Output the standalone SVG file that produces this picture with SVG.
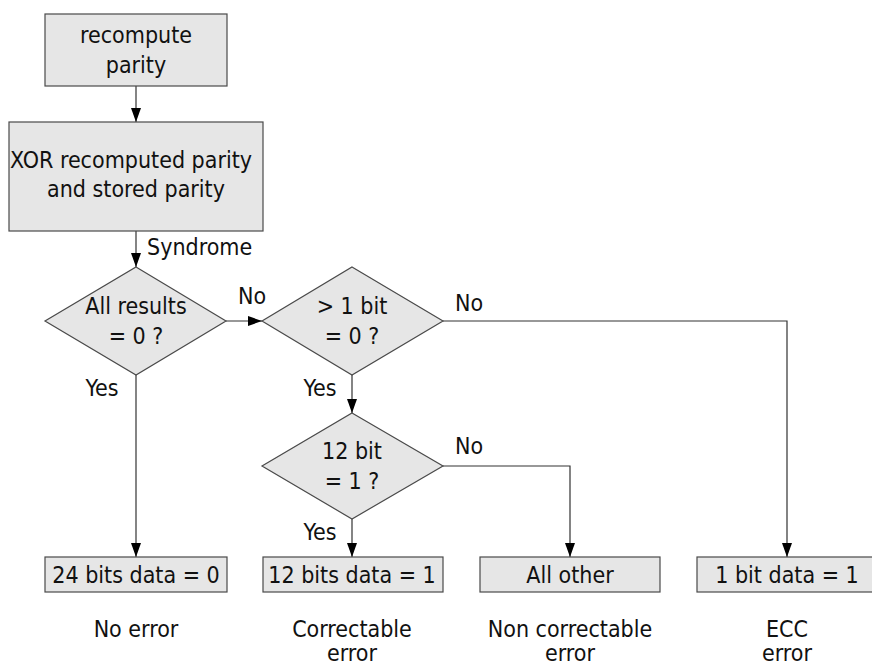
<svg xmlns="http://www.w3.org/2000/svg" width="872" height="666" viewBox="0 0 872 666">
  <defs>
    <marker id="arrow" markerWidth="14" markerHeight="10" refX="14" refY="5" orient="auto" markerUnits="userSpaceOnUse">
      <path d="M0,0 L14,5 L0,10 z" fill="#000"/>
    </marker>
    <style>
      .shape { fill: #e6e6e6; stroke: #4a4a4a; stroke-width: 1.2; }
      .conn { fill: none; stroke: #333; stroke-width: 1.2; marker-end: url(#arrow); }
      text { font-family: "DejaVu Sans Condensed", "DejaVu Sans", sans-serif; font-size: 23px; fill: #111; }
      .c { text-anchor: middle; }
    </style>
  </defs>
  <rect width="872" height="666" fill="#fff"/>

  <g id="connectors">
    <path class="conn" d="M136,86 V122"/>
    <path class="conn" d="M136,231 V267"/>
    <path class="conn" d="M226,321 H262"/>
    <path class="conn" d="M136,375 V557"/>
    <path class="conn" d="M352,375 V413"/>
    <path class="conn" d="M443,321 H787 V557"/>
    <path class="conn" d="M352,519 V557"/>
    <path class="conn" d="M443,466 H570 V557"/>
  </g>

  <g id="labels">
    <text x="147" y="255">Syndrome</text>
    <text class="c" x="252" y="304">No</text>
    <text class="c" x="102" y="396">Yes</text>
    <text class="c" x="320" y="396">Yes</text>
    <text x="455" y="311">No</text>
    <text x="455" y="454">No</text>
    <text class="c" x="320" y="540">Yes</text>
  </g>

  <g id="recompute">
    <rect class="shape" x="45" y="14" width="182" height="72"/>
    <text class="c" x="136" y="43">recompute</text>
    <text class="c" x="136" y="73">parity</text>
  </g>

  <g id="xor">
    <rect class="shape" x="9" y="122" width="254" height="109"/>
    <text class="c" x="131" y="168">XOR recomputed parity</text>
    <text class="c" x="136" y="197">and stored parity</text>
  </g>

  <g id="all-zero">
    <polygon class="shape" points="136,267 226,321 136,375 45,321"/>
    <text class="c" x="136" y="314">All results</text>
    <text class="c" x="136" y="344">= 0 ?</text>
  </g>

  <g id="multi-bit">
    <polygon class="shape" points="352,267 443,321 352,375 262,321"/>
    <text class="c" x="352" y="314">&gt; 1 bit</text>
    <text class="c" x="352" y="344">= 0 ?</text>
  </g>

  <g id="twelve-bit">
    <polygon class="shape" points="352,413 443,466 352,519 262,466"/>
    <text class="c" x="352" y="459">12 bit</text>
    <text class="c" x="352" y="489">= 1 ?</text>
  </g>

  <g id="no-error">
    <rect class="shape" x="45" y="557" width="182" height="35"/>
    <text class="c" x="136" y="583">24 bits data = 0</text>
    <text class="c" x="136" y="637">No error</text>
  </g>

  <g id="correctable">
    <rect class="shape" x="263" y="557" width="180" height="35"/>
    <text class="c" x="352" y="583">12 bits data = 1</text>
    <text class="c" x="352" y="637">Correctable</text>
    <text class="c" x="352" y="661">error</text>
  </g>

  <g id="non-correctable">
    <rect class="shape" x="480" y="557" width="180" height="35"/>
    <text class="c" x="570" y="583">All other</text>
    <text class="c" x="570" y="637">Non correctable</text>
    <text class="c" x="570" y="661">error</text>
  </g>

  <g id="ecc">
    <rect class="shape" x="697" y="557" width="180" height="35"/>
    <text class="c" x="787" y="583">1 bit data = 1</text>
    <text class="c" x="787" y="637">ECC</text>
    <text class="c" x="787" y="661">error</text>
  </g>
</svg>
